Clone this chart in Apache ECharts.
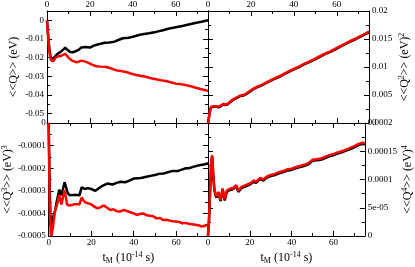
<!DOCTYPE html>
<html><head><meta charset="utf-8">
<script src="https://cdn.jsdelivr.net/npm/echarts@6/dist/echarts.min.js"></script>
<style>html,body{margin:0;padding:0;background:#fff}#c{width:415px;height:267px}</style>
</head><body><div id="c"></div>
<script>
// ---------- data ----------
const xMajorTicks = [0, 20, 40, 60];
const xMinorTicks = [10, 30, 50, 70];
const xTickLabels = ['0', '20', '40', '60'];

const q1MajorTicks = [-0.05, -0.04, -0.03, -0.02, -0.01, 0];
const q1MinorTicks = [-0.045, -0.035, -0.025, -0.015, -0.005, 0.005];
const q1TickLabels = ['-0.05', '-0.04', '-0.03', '-0.02', '-0.01', '0'];
const q2MajorTicks = [0, 0.005, 0.01, 0.015, 0.02];
const q2MinorTicks = [0.0025, 0.0075, 0.0125, 0.0175];
const q2TickLabels = ['0', '0.005', '0.01', '0.015', '0.02'];
const q3MajorTicks = [-0.0005, -0.0004, -0.0003, -0.0002, -0.0001, 0];
const q3MinorTicks = [-0.00045, -0.00035, -0.00025, -0.00015, -0.00005];
const q3TickLabels = ['-0.0005', '-0.0004', '-0.0003', '-0.0002', '-0.0001', '0'];
const q4MajorTicks = [0, 0.00005, 0.0001, 0.00015, 0.0002];
const q4MinorTicks = [0.000025, 0.000075, 0.000125, 0.000175];
const q4TickLabels = ['0', '5e-05', '0.0001', '0.00015', '0.0002'];

// <<Q>>
const q1BlackT = [0,0.4,0.8,1.2,1.6,2.0,2.5,3,3.5,4,5,5.5,6,7,7.7,8.5,9.5,10.8,12,13,14.5,16,18,20,22.3,24.5,26.9,29,31.5,33.5,35.4,38,40,42.5,44.6,47.5,50.8,54,57,60,63,66,69,72,75];
const q1Black = [0,-0.006,-0.012,-0.016,-0.019,-0.0205,-0.021,-0.0205,-0.0195,-0.019,-0.0178,-0.0172,-0.0172,-0.0162,-0.0155,-0.0146,-0.0158,-0.017,-0.0171,-0.0167,-0.016,-0.0146,-0.0143,-0.0146,-0.0133,-0.0127,-0.012,-0.0119,-0.0114,-0.0104,-0.0096,-0.0093,-0.0088,-0.008,-0.0074,-0.0069,-0.0062,-0.0053,-0.0044,-0.0037,-0.003,-0.0022,-0.0014,-0.0008,0.0];
const q1RedT = [0,0.4,0.8,1.2,1.6,2.0,2.5,3,3.5,4,4.7,5.5,6.2,7,8.5,9.3,10,11.6,13.9,16,17.5,19.3,21,23,25,27.7,30,32.3,34.5,36.9,39,41.5,44,46,48.5,50.8,53,55.4,58,60,62.5,64.6,67,69,71.5,75];
const q1Red = [0,-0.007,-0.013,-0.0175,-0.0202,-0.0215,-0.0222,-0.0218,-0.021,-0.02,-0.0193,-0.0192,-0.0188,-0.0188,-0.0179,-0.0187,-0.02,-0.0216,-0.0225,-0.0216,-0.022,-0.0228,-0.0238,-0.0246,-0.0248,-0.025,-0.0258,-0.0268,-0.0272,-0.0277,-0.0285,-0.0293,-0.0298,-0.0302,-0.031,-0.0316,-0.0321,-0.0325,-0.0333,-0.0339,-0.0343,-0.0347,-0.0353,-0.036,-0.0368,-0.0378];

// <<Q^2>>
const q2T = [0,0.5,1,1.5,2,3,4,5,6,7,8,9,10,11,12,13.5,15,16.5,18,19.5,21,23,25,27,30,33,36,39,42,45,48,51,54,57,60,63,66,69,72,75];
const q2Black = [0,0.0011,0.0023,0.0028,0.0029,0.0029,0.0029,0.0028,0.003,0.0033,0.0032,0.0033,0.0036,0.0039,0.0042,0.0045,0.0048,0.0049,0.0052,0.0056,0.006,0.0064,0.0067,0.0071,0.0077,0.0082,0.0088,0.0094,0.0099,0.0105,0.011,0.0116,0.0122,0.0127,0.0133,0.0139,0.0145,0.015,0.0156,0.0162];
const q2Red = [0,0.0012,0.0024,0.0029,0.003,0.003,0.003,0.0029,0.0031,0.0034,0.0033,0.0034,0.0037,0.004,0.0043,0.0046,0.0049,0.005,0.0053,0.0057,0.0061,0.0065,0.0068,0.0072,0.0078,0.0083,0.0089,0.0095,0.01,0.0106,0.0111,0.0117,0.0123,0.0128,0.0134,0.014,0.0146,0.0151,0.0157,0.0163];

// <<Q^3>>
const q3BlackT = [0,0.5,1,1.5,2,3,4,5,6,7.5,9,10,12,14.5,15.5,17,18.5,20,22,24.6,26,27.7,30,32,33.8,36,38,40,42,44,46,48,50,52,54,56,58.5,61,63,64.6,66,68,70.8,73,75];
const q3Black = [0,-3.0e-4,-4.6e-4,-4.4e-4,-4.2e-4,-3.9e-4,-3.4e-4,-2.95e-4,-3.2e-4,-2.62e-4,-3.1e-4,-3.2e-4,-3.18e-4,-3.2e-4,-2.85e-4,-2.92e-4,-2.88e-4,-2.92e-4,-3.0e-4,-2.82e-4,-2.75e-4,-2.68e-4,-2.72e-4,-2.65e-4,-2.6e-4,-2.62e-4,-2.55e-4,-2.46e-4,-2.45e-4,-2.42e-4,-2.38e-4,-2.34e-4,-2.3e-4,-2.25e-4,-2.24e-4,-2.18e-4,-2.12e-4,-2.12e-4,-2.05e-4,-2.0e-4,-2.0e-4,-1.94e-4,-1.87e-4,-1.84e-4,-1.78e-4];
const q3RedT = [0,0.5,1,1.3,2,3,4,5,6,7.5,8.7,10,12,14.5,15.5,17,18.5,20,21.5,23,24.5,26,27.5,29,30.5,32,33.5,35.4,37,38.5,40,41.5,43,44.6,46,47.7,49,50.8,52.5,53.8,55.5,56.9,58.5,60,61.5,63,64.5,66,67.5,69,70.5,72,73.5,75];
const q3Red = [0,-3.5e-4,-4.9e-4,-5.0e-4,-4.6e-4,-3.9e-4,-3.6e-4,-3.2e-4,-3.6e-4,-2.97e-4,-3.62e-4,-3.65e-4,-3.6e-4,-3.6e-4,-3.3e-4,-3.5e-4,-3.55e-4,-3.6e-4,-3.7e-4,-3.78e-4,-3.72e-4,-3.65e-4,-3.75e-4,-3.85e-4,-3.82e-4,-3.9e-4,-3.92e-4,-3.85e-4,-3.9e-4,-3.95e-4,-4.0e-4,-4.07e-4,-4.02e-4,-4.0e-4,-4.08e-4,-4.1e-4,-4.12e-4,-4.22e-4,-4.2e-4,-4.29e-4,-4.28e-4,-4.32e-4,-4.35e-4,-4.36e-4,-4.38e-4,-4.44e-4,-4.42e-4,-4.46e-4,-4.48e-4,-4.5e-4,-4.52e-4,-4.58e-4,-4.55e-4,-4.5e-4];

// <<Q^4>>
const q4T = [0,0.5,1,1.5,2,2.5,3,3.5,4,5,6,7,8,9,10,11,12,13.5,14.5,16,18,20,22,23,25,26.5,28,30,32,34,36,38,40,42,44,46,48,50,52,54,56,58,60,62,64,66,68,70,72,74,75];
const q4Black = [0,2.9e-5,7.8e-5,12.8e-5,14.1e-5,10.8e-5,8.3e-5,7.3e-5,6.8e-5,7.6e-5,6.2e-5,8.2e-5,6.3e-5,7.8e-5,8.1e-5,8.2e-5,8.3e-5,8.8e-5,7.8e-5,8.5e-5,8.8e-5,9.1e-5,9.6e-5,9.4e-5,10.1e-5,9.8e-5,10.3e-5,10.6e-5,10.8e-5,11.1e-5,11.3e-5,11.6e-5,11.7e-5,12.0e-5,12.2e-5,12.4e-5,12.7e-5,13.3e-5,13.4e-5,13.5e-5,13.8e-5,14.1e-5,14.3e-5,14.6e-5,14.8e-5,15.1e-5,15.4e-5,15.7e-5,16.1e-5,16.3e-5,16.2e-5];
const q4Red = [0,3.0e-5,8.0e-5,13.0e-5,14.3e-5,11.0e-5,8.5e-5,7.5e-5,7.0e-5,7.8e-5,6.4e-5,8.4e-5,6.5e-5,8.0e-5,8.3e-5,8.4e-5,8.5e-5,9.0e-5,8.0e-5,8.7e-5,9.0e-5,9.3e-5,9.8e-5,9.6e-5,10.3e-5,10.0e-5,10.5e-5,10.8e-5,11.0e-5,11.3e-5,11.5e-5,11.8e-5,11.9e-5,12.2e-5,12.4e-5,12.6e-5,12.9e-5,13.5e-5,13.6e-5,13.7e-5,14.0e-5,14.3e-5,14.5e-5,14.8e-5,15.0e-5,15.3e-5,15.6e-5,15.9e-5,16.3e-5,16.5e-5,16.4e-5];

// ---------- layout ----------
const FONT = 'Liberation Serif';
const grids = [
  {left: 47, top: 10, width: 161, height: 113},
  {left: 208, top: 10, width: 161, height: 113},
  {left: 47, top: 123, width: 161, height: 113},
  {left: 208, top: 123, width: 161, height: 113}
];
const yRanges = [[-0.055, 0.005], [0, 0.02], [-0.0005, 0], [0, 0.0002]];
const yTicks = [[q1MajorTicks, q1MinorTicks, q1TickLabels], [q2MajorTicks, q2MinorTicks, q2TickLabels],
                [q3MajorTicks, q3MinorTicks, q3TickLabels], [q4MajorTicks, q4MinorTicks, q4TickLabels]];
const supRich = {
  sup: {fontFamily: FONT, fontSize: 8, color: '#000', verticalAlign: 'top', padding: [0, 0, 6, 0]},
  sub: {fontFamily: FONT, fontSize: 8, color: '#000', verticalAlign: 'bottom', padding: [6, 0, 0, 0]}
};
const yNames = ['<<Q>> (eV)', '<<Q{sup|2}>> (eV){sup|2}', '<<Q{sup|3}>> (eV){sup|3}', '<<Q{sup|4}>> (eV){sup|4}'];
const xName = 't{sub|M} (10{sup|-14} s)';

function lookup(vals, labels) {
  return function (v) {
    for (let i = 0; i < vals.length; i++) {
      if (Math.abs(v - vals[i]) < 1e-9) return labels[i];
    }
    return '';
  };
}

const xAxes = [], yAxes = [];
grids.forEach((g, gi) => {
  const top = gi < 2;
  const left = gi % 2 === 0;
  ['bottom', 'top'].forEach(pos => {
    const showLab = (pos === 'top') === top;
    const named = pos === 'bottom' && !top;
    xAxes.push({
      type: 'value', gridIndex: gi, position: pos, min: 0, max: 75,
      axisLine: {show: true, onZero: false, lineStyle: {color: '#000', width: 1}},
      axisTick: {show: true, inside: true, length: 5, customValues: xMajorTicks, lineStyle: {color: '#000', width: 1}},
      axisLabel: {show: showLab, customValues: xMajorTicks, formatter: lookup(xMajorTicks, xTickLabels),
        margin: 2, fontFamily: FONT, fontSize: 9, color: '#000'},
      splitLine: {show: false},
      name: named ? xName : '', nameLocation: 'middle', nameGap: 15,
      nameTextStyle: {fontFamily: FONT, fontSize: 12, color: '#000', rich: supRich}
    });
    xAxes.push({
      type: 'value', gridIndex: gi, position: pos, min: 0, max: 75,
      axisLine: {show: false, onZero: false},
      axisTick: {show: true, inside: true, length: 3, customValues: xMinorTicks, lineStyle: {color: '#000', width: 1}},
      axisLabel: {show: false}, splitLine: {show: false}
    });
  });
  const [maj, mnr, labs] = yTicks[gi];
  ['left', 'right'].forEach(pos => {
    const showLab = (pos === 'left') === left;
    yAxes.push({
      type: 'value', gridIndex: gi, position: pos, min: yRanges[gi][0], max: yRanges[gi][1],
      axisLine: {show: true, onZero: false, lineStyle: {color: '#000', width: 1}},
      axisTick: {show: true, inside: true, length: 5, customValues: maj, lineStyle: {color: '#000', width: 1}},
      axisLabel: {show: showLab, customValues: maj, formatter: lookup(maj, labs),
        margin: 3, fontFamily: FONT, fontSize: 9, color: '#000'},
      splitLine: {show: false},
      name: showLab ? yNames[gi] : '', nameLocation: 'middle', nameGap: left ? 27 : 29,
      nameTextStyle: {fontFamily: FONT, fontSize: 12, color: '#000', rich: supRich}
    });
    yAxes.push({
      type: 'value', gridIndex: gi, position: pos, min: yRanges[gi][0], max: yRanges[gi][1],
      axisLine: {show: false, onZero: false},
      axisTick: {show: true, inside: true, length: 3, customValues: mnr, lineStyle: {color: '#000', width: 1}},
      axisLabel: {show: false}, splitLine: {show: false}
    });
  });
});

function pairs(t, v) { return t.map((x, i) => [x, v[i]]); }
function line(gi, color, t, v) {
  return {type: 'line', xAxisIndex: 4 * gi, yAxisIndex: 4 * gi, data: pairs(t, v),
    showSymbol: false, symbol: 'none', lineStyle: {color: color, width: 2.5}, itemStyle: {color: color},
    emphasis: {disabled: true}, silent: true, clip: true};
}

const series = [
  line(0, '#000000', q1BlackT, q1Black), line(0, '#ff0000', q1RedT, q1Red),
  line(1, '#000000', q2T, q2Black), line(1, '#ff0000', q2T, q2Red),
  line(2, '#000000', q3BlackT, q3Black), line(2, '#ff0000', q3RedT, q3Red),
  line(3, '#000000', q4T, q4Black), line(3, '#ff0000', q4T, q4Red)
];

const chart = echarts.init(document.getElementById('c'), null, {renderer: 'canvas'});
chart.setOption({
  animation: false,
  backgroundColor: '#fff',
  grid: grids,
  xAxis: xAxes,
  yAxis: yAxes,
  series: series
});
</script></body></html>
